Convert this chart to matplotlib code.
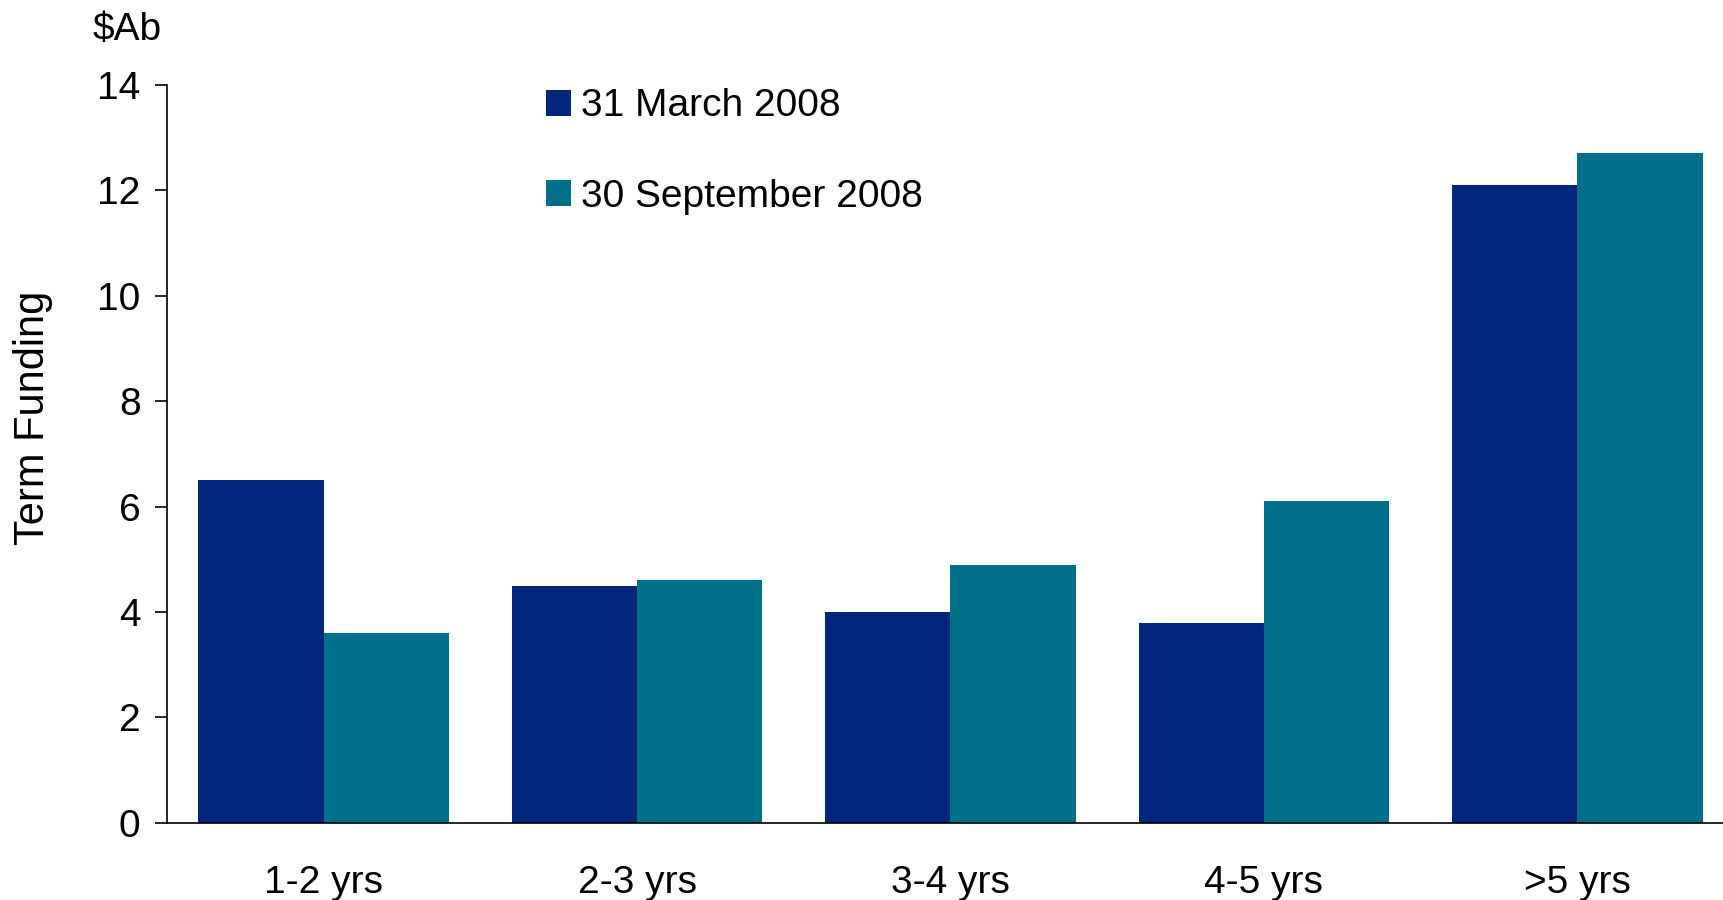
import matplotlib
matplotlib.use("Agg")
import matplotlib.pyplot as plt
import numpy as np

# Dados do gráfico
categories = ["1-2 yrs", "2-3 yrs", "3-4 yrs", "4-5 yrs", ">5 yrs"]
march_2008 = [6.5, 4.5, 4.0, 3.8, 12.1]
september_2008 = [3.6, 4.6, 4.9, 6.1, 12.7]
series_labels = ["31 March 2008", "30 September 2008"]
y_ticks = [0, 2, 4, 6, 8, 10, 12, 14]

plt.rcParams['font.family'] = ['Liberation Sans', 'DejaVu Sans']

fig = plt.figure(figsize=(17.23, 9), dpi=100)
ax = fig.add_axes([0.0969, 0.0856, 0.9095, 0.8204])

x = np.arange(len(categories))
w = 0.4
ax.bar(x - w / 2, march_2008, width=w, color='#02267C', label=series_labels[0])
ax.bar(x + w / 2, september_2008, width=w, color='#00708A', label=series_labels[1])

ax.set_xlim(-0.5, 4.5)
ax.set_ylim(0, 14)
ax.set_yticks(y_ticks)
ax.set_xticks(x)
ax.set_xticklabels(categories)

# Eixos no estilo do original
for side in ['top', 'right']:
    ax.spines[side].set_visible(False)
ax.spines['left'].set_linewidth(1.2)
ax.spines['bottom'].set_linewidth(1.2)
ax.tick_params(axis='y', direction='out', length=9, width=1.2, pad=10, labelsize=28)
ax.tick_params(axis='x', length=0, pad=30, labelsize=28)

fig.text(0.019, 0.536, "Term Funding", rotation=90, fontsize=30, ha='center', va='center')
fig.text(0.054, 0.967, r"\$Ab", fontsize=28, ha='left', va='center')

ax.legend(loc='upper left', bbox_to_anchor=(0.232, 1.016), frameon=False, fontsize=28,
          handlelength=0.64, handleheight=0.64, handletextpad=0.25, labelspacing=1.4,
          borderaxespad=0)

fig.savefig("out.png", dpi=100)
